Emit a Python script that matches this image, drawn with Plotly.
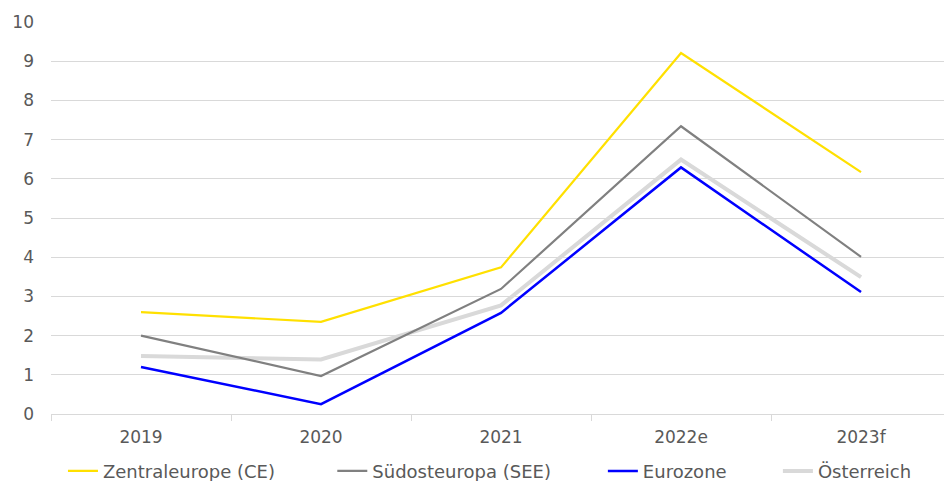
import plotly.graph_objects as go

categories = ["2019", "2020", "2021", "2022e", "2023f"]
ce = [2.60, 2.35, 3.74, 9.21, 6.17]
see = [2.00, 0.97, 3.19, 7.34, 4.01]
euro = [1.20, 0.25, 2.58, 6.29, 3.11]
at = [1.48, 1.39, 2.77, 6.49, 3.49]

names = ["Zentraleurope (CE)", "Südosteuropa (SEE)", "Eurozone", "Österreich"]
colors = ["#FFE000", "#808080", "#0000FF", "#D9D9D9"]
widths = [2.2, 2.2, 2.5, 4]
series = [ce, see, euro, at]
legend_ids = ["legend", "legend2", "legend3", "legend4"]
legend_x = [0.0134, 0.315, 0.618, 0.814]

FONT = "DejaVu Sans"
TXT = "#595959"

fig = go.Figure()
# draw Österreich first so it sits below the others
order = [3, 0, 1, 2]
for i in order:
    fig.add_trace(go.Scatter(
        x=categories, y=series[i], mode="lines", name=names[i],
        line=dict(color=colors[i], width=widths[i]),
        legend=legend_ids[i], hoverinfo="skip"))

layout_legends = {}
for i, lid in enumerate(legend_ids):
    layout_legends[lid] = dict(
        x=legend_x[i], y=-0.146, xanchor="left", yanchor="middle",
        orientation="h", bgcolor="rgba(0,0,0,0)",
        font=dict(family=FONT, size=18, color=TXT),
        itemwidth=30, tracegroupgap=0)

fig.update_layout(
    width=944, height=481,
    margin=dict(l=51, r=0, t=22, b=67, autoexpand=False),
    paper_bgcolor="white", plot_bgcolor="white",
    font=dict(family=FONT, size=17, color=TXT),
    showlegend=True,
    **layout_legends,
    xaxis=dict(
        type="category", range=[-0.5, 4.461],
        showgrid=False, showline=True, linecolor="#D9D9D9", linewidth=1,
        ticks="outside", tickson="boundaries", ticklen=6, tickcolor="#D9D9D9",
        tickfont=dict(family=FONT, size=17, color=TXT),
        ticklabelstandoff=8, zeroline=False),
    yaxis=dict(
        range=[0, 10], dtick=1, showgrid=True, gridcolor="#D9D9D9", gridwidth=1,
        zeroline=False, showline=False, ticks="",
        tickfont=dict(family=FONT, size=17, color=TXT),
        ticklabelstandoff=16),
)

fig.write_html("out.html")
